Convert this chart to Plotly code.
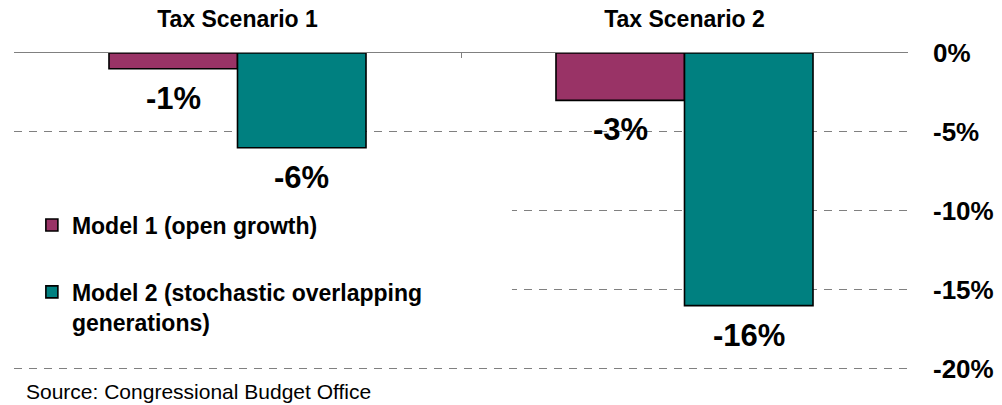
import plotly.graph_objects as go

# Chart data
scenarios = ["Tax Scenario 1", "Tax Scenario 2"]
model_names = ["Model 1 (open growth)", "Model 2 (stochastic overlapping<br>generations)"]
model1_values = [-1, -3]
model2_values = [-6, -16]
y_ticks = [0, -5, -10, -15, -20]
source_note = "Source: Congressional Budget Office"

colors = ["#993366", "#008080"]
font_family = "Liberation Sans, Arial, sans-serif"
bargap = 0.425
bar_w = (1 - bargap) / 2

fig = go.Figure()
for k, (name, vals) in enumerate(zip(model_names, [model1_values, model2_values])):
    fig.add_trace(go.Bar(
        x=scenarios, y=vals, name=f"<b>{name}</b>", legendgroup=f"g{k}",
        marker=dict(color=colors[k], line=dict(color="#000000", width=1.6)),
        hoverinfo="skip",
    ))

# Value labels under each bar
annotations = []
for k, vals in enumerate([model1_values, model2_values]):
    for i, v in enumerate(vals):
        annotations.append(dict(
            x=i + (k - 0.5) * bar_w, y=v, xref="x", yref="y",
            text=f"<b>{v:.0f}%</b>", showarrow=False, yanchor="top", yshift=-10,
            font=dict(family=font_family, size=31, color="#000000"),
        ))

annotations.append(dict(
    x=0.011, y=-0.068, xref="paper", yref="paper", xanchor="left", yanchor="middle",
    text=source_note, showarrow=False,
    font=dict(family=font_family, size=21, color="#000000"),
))

fig.update_layout(
    width=1002, height=405,
    margin=dict(l=14, r=94, t=53, b=35),
    paper_bgcolor="white", plot_bgcolor="white",
    barmode="group", bargap=bargap, bargroupgap=0,
    annotations=annotations,
    shapes=[dict(
        type="rect", xref="paper", yref="y", x0=0, x1=0.557, y0=-7.6, y1=-17.4,
        fillcolor="white", line=dict(width=0), layer="above",
    )],
    legend=dict(
        x=0.02, y=0.525, xanchor="left", yanchor="top",
        bgcolor="rgba(0,0,0,0)", tracegroupgap=34, valign="top",
        font=dict(family=font_family, size=23, color="#000000"),
    ),
    xaxis=dict(
        side="top", type="category", tickson="boundaries", automargin=False,
        ticks="inside", ticklen=5, tickcolor="#808080",
        showline=True, linecolor="#808080", linewidth=1.2,
        showgrid=False, ticklabelstandoff=16,
        tickvals=scenarios, ticktext=[f"<b>{s}</b>" for s in scenarios],
        tickfont=dict(family=font_family, size=23, color="#000000"),
    ),
    yaxis=dict(
        side="right", range=[-20.08, 0], automargin=False,
        tickvals=y_ticks, ticktext=[f"<b>{t}%</b>" for t in y_ticks],
        showgrid=True, gridcolor="#808080", griddash="8px,7px", gridwidth=1,
        zeroline=False, showline=False, ticks="", ticklabelstandoff=24,
        tickfont=dict(family=font_family, size=26, color="#000000"),
    ),
)

fig.write_html("out.html")
